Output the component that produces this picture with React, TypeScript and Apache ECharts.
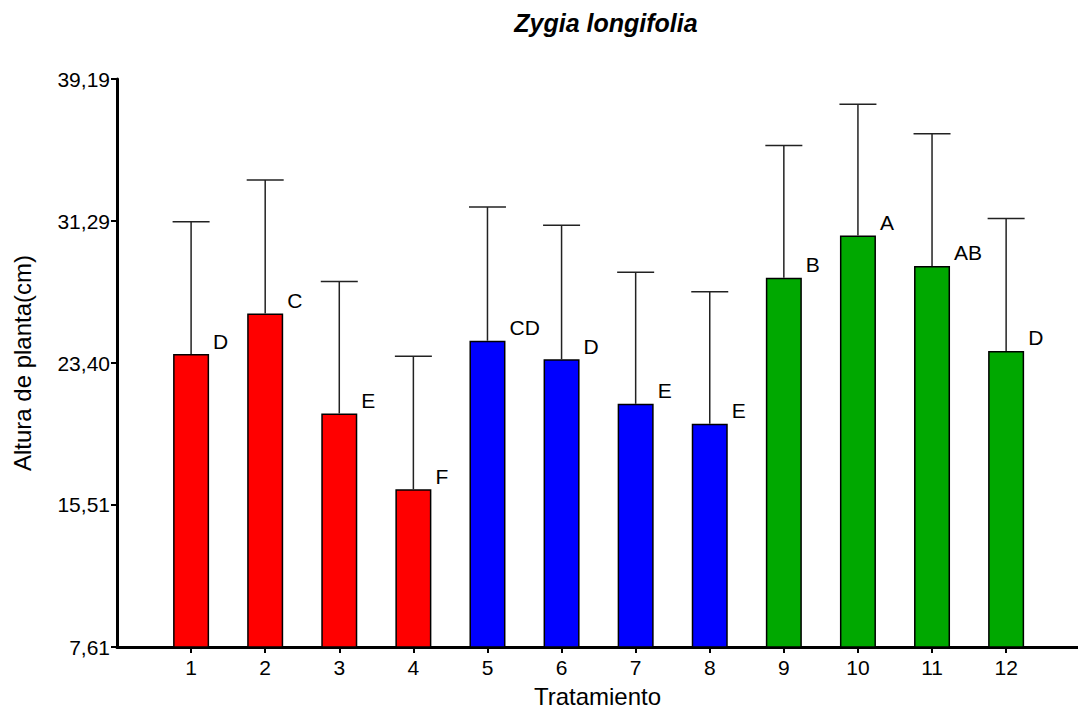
import React, { useEffect, useRef } from "react";
import * as echarts from "echarts";

const treatments = [1, 2, 3, 4, 5, 6, 7, 8, 9, 10, 11, 12];
const means = [23.9, 26.15, 20.59, 16.38, 24.64, 23.61, 21.13, 20.02, 28.14, 30.49, 28.8, 24.07];
const errors = [7.36, 7.43, 7.34, 7.4, 7.43, 7.45, 7.32, 7.34, 7.35, 7.3, 7.35, 7.36];
const letters = ["D", "C", "E", "F", "CD", "D", "E", "E", "B", "A", "AB", "D"];
const barColors = ["#ff0000", "#ff0000", "#ff0000", "#ff0000", "#0000ff", "#0000ff", "#0000ff", "#0000ff", "#00a800", "#00a800", "#00a800", "#00a800"];
const yTicks = [7.61, 15.51, 23.4, 31.29, 39.19];

const FONT = "Liberation Sans, Arial, sans-serif";

export default function App() {
  const ref = useRef<HTMLDivElement>(null);
  useEffect(() => {
    if (!ref.current) return;
    const chart = echarts.init(ref.current, undefined, { renderer: "svg" });
    chart.setOption({
      animation: false,
      backgroundColor: "#ffffff",
      title: {
        text: "Zygia longifolia",
        left: 601,
        top: 5,
        textAlign: "center",
        textStyle: { fontFamily: FONT, fontSize: 25, fontWeight: "bold", fontStyle: "italic", color: "#000" },
      },
      grid: { left: 117, right: 0, top: 79, bottom: 62 },
      xAxis: {
        type: "value",
        min: 0,
        max: 12.97,
        name: "Tratamiento",
        nameLocation: "middle",
        nameGap: 37,
        nameTextStyle: { fontFamily: FONT, fontSize: 24, color: "#000" },
        axisLine: { show: true, lineStyle: { color: "#000", width: 3 } },
        axisTick: { show: true, length: 6, customValues: treatments, lineStyle: { color: "#000", width: 2 } },
        axisLabel: {
          customValues: treatments,
          margin: 10,
          fontFamily: FONT,
          fontSize: 21,
          color: "#000",
          formatter: (v: number) => String(v),
        },
        splitLine: { show: false },
      },
      yAxis: {
        type: "value",
        min: 7.61,
        max: 39.19,
        name: "Altura de planta(cm)",
        nameLocation: "middle",
        nameGap: 83,
        nameTextStyle: { fontFamily: FONT, fontSize: 24, color: "#000" },
        axisLine: { show: true, lineStyle: { color: "#000", width: 3 } },
        axisTick: { show: true, length: 6, customValues: yTicks, lineStyle: { color: "#000", width: 2 } },
        axisLabel: {
          customValues: yTicks,
          margin: 7,
          fontFamily: FONT,
          fontSize: 21,
          color: "#000",
          formatter: (v: number) => v.toFixed(2).replace(".", ","),
        },
        splitLine: { show: false },
      },
      series: [
        {
          type: "bar",
          barWidth: 36,
          data: treatments.map((t, i) => ({
            value: [t, means[i]],
            itemStyle: { color: barColors[i], borderColor: "#000", borderWidth: 1.5 },
          })),
          label: {
            show: true,
            position: [40, -13],
            align: "left",
            verticalAlign: "middle",
            fontFamily: FONT,
            fontSize: 21,
            color: "#000",
            formatter: (p: any) => letters[p.dataIndex],
          },
          z: 2,
        },
        {
          type: "custom",
          z: 3,
          data: treatments.map((t, i) => [t, means[i], means[i] + errors[i]]),
          renderItem: (params: any, api: any) => {
            const x = api.value(0);
            const lo = api.coord([x, api.value(1)]);
            const hi = api.coord([x, api.value(2)]);
            const hw = 18.5;
            const style = { stroke: "#222", lineWidth: 1.5, fill: "none" };
            return {
              type: "group",
              children: [
                { type: "line", shape: { x1: lo[0], y1: lo[1], x2: hi[0], y2: hi[1] }, style },
                { type: "line", shape: { x1: hi[0] - hw, y1: hi[1], x2: hi[0] + hw, y2: hi[1] }, style },
              ],
            };
          },
        },
      ],
    });
    return () => chart.dispose();
  }, []);
  return <div ref={ref} style={{ position: "fixed", left: 0, top: 0, width: 1078, height: 713 }} />;
}
